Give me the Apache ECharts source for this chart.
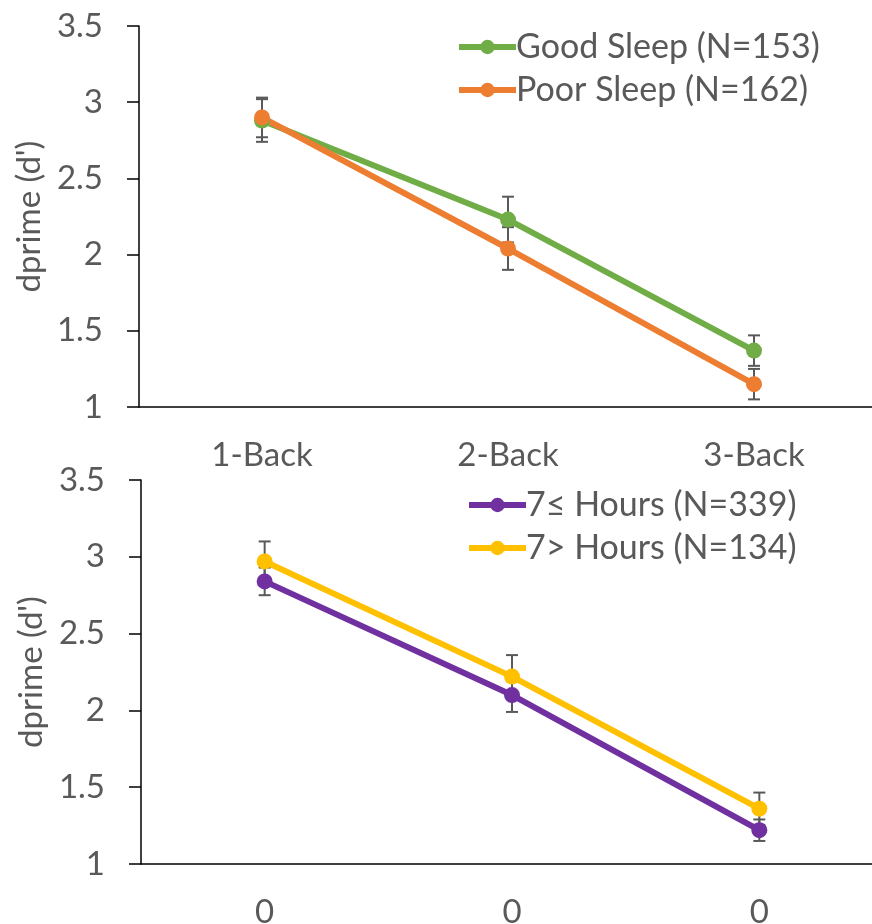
<!DOCTYPE html>
<html><head><meta charset="utf-8">
<script src="https://cdn.jsdelivr.net/npm/echarts@6/dist/echarts.min.js"></script>
<style>html,body{margin:0;padding:0;background:#fff}#c{width:872px;height:924px}</style>
</head><body><div id="c"></div>
<script>
var topCategories = ['1-Back', '2-Back', '3-Back'];
var bottomCategories = ['0', '0', '0'];
var yTicks = [1, 1.5, 2, 2.5, 3, 3.5];

var goodName = 'Good Sleep (N=153)';
var goodValues = [2.88, 2.23, 1.37];
var goodErr = [0.14, 0.15, 0.10];
var poorName = 'Poor Sleep (N=162)';
var poorValues = [2.90, 2.04, 1.15];
var poorErr = [0.13, 0.14, 0.10];

var ge7Name = '7\u2264 Hours (N=339)';
var ge7Values = [2.84, 2.10, 1.22];
var ge7Err = [0.09, 0.11, 0.07];
var lt7Name = '7> Hours (N=134)';
var lt7Values = [2.97, 2.22, 1.36];
var lt7Err = [0.13, 0.14, 0.105];

var FONT = 'Lato';
var TXT = '#595959';
var FS = 33;
var LFS = 34;

function errData(vals, errs) {
  return vals.map(function (v, i) { return [i, v - errs[i], v + errs[i]]; });
}
function errSeries(vals, errs, xi, yi) {
  return {
    type: 'custom', xAxisIndex: xi, yAxisIndex: yi, z: 1, silent: true,
    data: errData(vals, errs),
    encode: { x: 0, y: [1, 2] },
    renderItem: function (params, api) {
      var x = api.value(0);
      var lo = api.coord([x, api.value(1)]);
      var hi = api.coord([x, api.value(2)]);
      var w = 6;
      var st = { stroke: '#595959', lineWidth: 2 };
      return { type: 'group', children: [
        { type: 'line', shape: { x1: lo[0], y1: lo[1], x2: hi[0], y2: hi[1] }, style: st },
        { type: 'line', shape: { x1: lo[0] - w, y1: lo[1], x2: lo[0] + w, y2: lo[1] }, style: st },
        { type: 'line', shape: { x1: hi[0] - w, y1: hi[1], x2: hi[0] + w, y2: hi[1] }, style: st }
      ]};
    }
  };
}
function lineSeries(name, vals, color, xi, yi) {
  return {
    name: name, type: 'line', xAxisIndex: xi, yAxisIndex: yi, z: 3,
    data: vals, symbol: 'circle', symbolSize: 16,
    lineStyle: { color: color, width: 6 },
    itemStyle: { color: color },
    emphasis: { disabled: true }
  };
}
function yAxis(gi) {
  return {
    type: 'value', gridIndex: gi, min: yTicks[0], max: yTicks[yTicks.length - 1], interval: 0.5,
    name: "dprime (d')", nameLocation: 'middle', nameGap: 83, nameRotate: 90,
    nameTextStyle: { color: TXT, fontFamily: FONT, fontSize: FS },
    axisLine: { show: true, lineStyle: { color: '#000', width: 1.5 } },
    axisTick: { show: true, inside: false, length: 12, lineStyle: { color: '#000', width: 1.5 } },
    axisLabel: { color: TXT, fontFamily: FONT, fontSize: FS, margin: 36 },
    splitLine: { show: false }
  };
}
function xAxis(gi, cats) {
  return {
    type: 'category', gridIndex: gi, data: cats, boundaryGap: true,
    axisLine: { show: true, onZero: false, lineStyle: { color: '#000', width: 1.5 } },
    axisTick: { show: false },
    axisLabel: { color: TXT, fontFamily: FONT, fontSize: FS, margin: 32, interval: 0 },
    splitLine: { show: false }
  };
}
var legendBase = {
  orient: 'vertical', itemWidth: 57, itemHeight: 18, itemGap: 7,
  lineStyle: { width: 6 },
  textStyle: { color: TXT, fontFamily: FONT, fontSize: LFS, lineHeight: 36, padding: [0, 0, 0, -5] },
  selectedMode: false
};

var chart = echarts.init(document.getElementById('c'), null, { renderer: 'canvas' });
chart.setOption({
  animation: false,
  backgroundColor: '#fff',
  grid: [
    { left: 139, top: 26, width: 738, height: 381, outerBoundsMode: 'none', containLabel: false },
    { left: 141, top: 480, width: 742, height: 384, outerBoundsMode: 'none', containLabel: false }
  ],
  xAxis: [xAxis(0, topCategories), xAxis(1, bottomCategories)],
  yAxis: [yAxis(0), yAxis(1)],
  legend: [
    Object.assign({}, legendBase, { left: 451, top: 24, data: [goodName, poorName] }),
    Object.assign({}, legendBase, { left: 461, top: 482, data: [ge7Name, lt7Name] })
  ],
  series: [
    errSeries(goodValues, goodErr, 0, 0),
    errSeries(poorValues, poorErr, 0, 0),
    lineSeries(goodName, goodValues, '#70AD47', 0, 0),
    lineSeries(poorName, poorValues, '#ED7D31', 0, 0),
    errSeries(ge7Values, ge7Err, 1, 1),
    errSeries(lt7Values, lt7Err, 1, 1),
    lineSeries(ge7Name, ge7Values, '#7030A0', 1, 1),
    lineSeries(lt7Name, lt7Values, '#FFC000', 1, 1)
  ]
});
</script></body></html>
